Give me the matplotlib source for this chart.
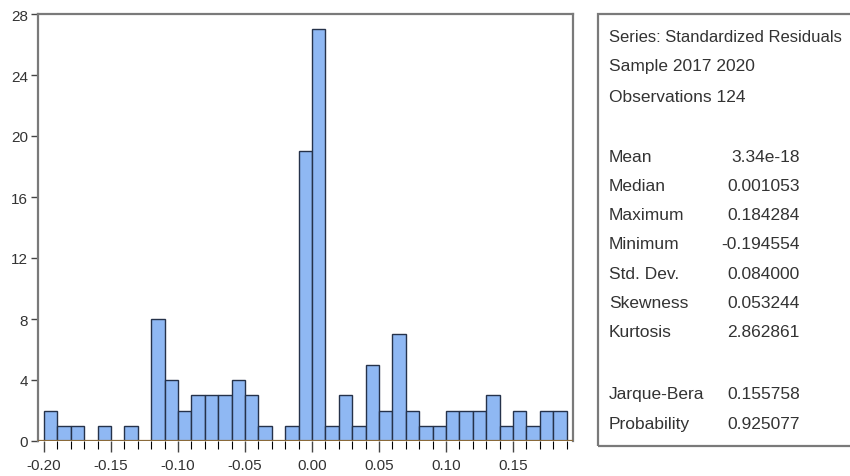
import numpy as np
import matplotlib.pyplot as plt
from matplotlib.patches import Rectangle
from matplotlib.ticker import MultipleLocator

# ---------- data ----------

bin_left = [round(-0.20 + 0.01 * i, 2) for i in range(39)]
counts = [2, 1, 1, 0, 1, 0, 1, 0, 8, 4, 2, 3, 3, 3, 4, 3, 1, 0, 1, 19,
          27, 1, 3, 1, 5, 2, 7, 2, 1, 1, 2, 2, 2, 3, 1, 2, 1, 2, 2]
bin_width = 0.01

x_ticks = [-0.20, -0.15, -0.10, -0.05, 0.00, 0.05, 0.10, 0.15]
y_ticks = [0, 4, 8, 12, 16, 20, 24, 28]

header_lines = ["Series: Standardized Residuals", "Sample 2017 2020", "Observations 124"]
stat_names = ["Mean", "Median", "Maximum", "Minimum", "Std. Dev.", "Skewness", "Kurtosis"]
stat_values = ["3.34e-18", "0.001053", "0.184284", "-0.194554", "0.084000", "0.053244", "2.862861"]
test_names = ["Jarque-Bera", "Probability"]
test_values = ["0.155758", "0.925077"]

# ---------- styling ----------

plt.rcParams['font.family'] = ['Liberation Sans Narrow', 'Liberation Sans', 'DejaVu Sans']
TXT = '#333333'
FRAME = '#7a7a7a'

W, H = 850, 477
fig = plt.figure(figsize=(W / 100, H / 100), dpi=100)

# plot area in pixels: left 38, right 573, top 15, bottom 442
ax = fig.add_axes([38 / W, (H - 442) / H, (573 - 38) / W, (442 - 15) / H])
ax.bar(bin_left, counts, width=bin_width, align='edge',
       color='#8fb8f3', edgecolor='#25324a', linewidth=1.0, zorder=2)
ax.axhline(0, color='#8a6a3a', linewidth=1.6, zorder=3)

ax.set_xlim(-0.2045, 0.1948)
ax.set_ylim(0, 28)
ax.set_xticks(x_ticks)
ax.set_xticklabels([f"{v:.2f}" for v in x_ticks])
ax.xaxis.set_minor_locator(MultipleLocator(0.01))
ax.set_yticks(y_ticks)
ax.tick_params(axis='both', labelsize=11, colors='#444444', labelcolor=TXT)
ax.tick_params(axis='x', which='major', length=8, width=1.0, pad=4)
ax.tick_params(axis='x', which='minor', length=6, width=0.8)
ax.tick_params(axis='y', length=5, width=1.0, pad=2)
for side in ['top', 'right', 'left']:
    ax.spines[side].set_color(FRAME)
    ax.spines[side].set_linewidth(1.6)
ax.spines['bottom'].set_visible(False)

# ---------- statistics box ----------

fig.patches.append(Rectangle((598 / W, (H - 447) / H), (860 - 598) / W, (447 - 15) / H,
                             transform=fig.transFigure, fill=False,
                             edgecolor=FRAME, linewidth=1.6))


def put(x_px, y_px, s, ha='left', size=12.5):
    fig.text(x_px / W, 1 - y_px / H, s, ha=ha, va='center', fontsize=size, color=TXT)


for i, line in enumerate(header_lines):
    put(609, 37 + 30 * i, line, size=12 if i == 0 else 12.5)
for i, (name, val) in enumerate(zip(stat_names, stat_values)):
    put(609, 157 + 29.3 * i, name)
    put(800, 157 + 29.3 * i, val, ha='right')
for i, (name, val) in enumerate(zip(test_names, test_values)):
    put(609, 395 + 29.5 * i, name)
    put(800, 395 + 29.5 * i, val, ha='right')

fig.savefig("out.png", dpi=100)
